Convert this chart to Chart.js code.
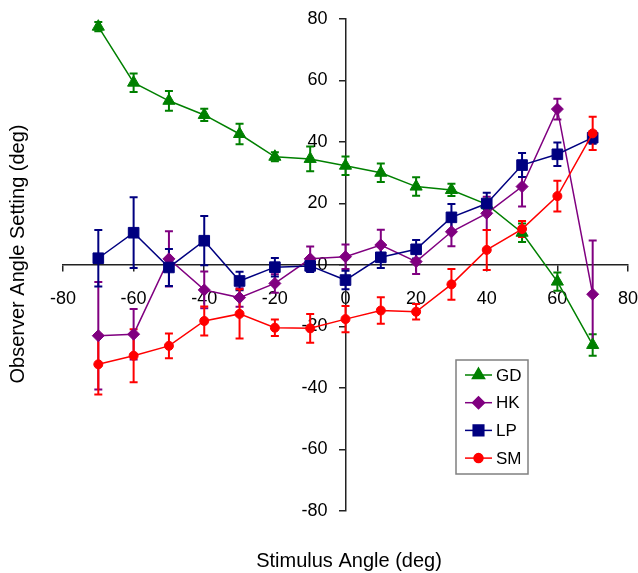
<!DOCTYPE html>
<html><head><meta charset="utf-8">
<script src="https://cdn.jsdelivr.net/npm/chart.js@4.4.1/dist/chart.umd.min.js"></script>
<style>html,body{margin:0;padding:0;background:#fff;}</style>
</head><body>
<canvas id="c" width="638" height="573"></canvas>
<script>
const stimulusAngles = [-70,-60,-50,-40,-30,-20,-10,0,10,20,30,40,50,60,70];
const seriesNames = ['GD','HK','LP','SM'];
const gdValues = [77.5, 59.3, 53.4, 48.8, 42.6, 35.2, 34.5, 32.3, 30.0, 25.5, 24.4, 19.7, 10.5, -5.4, -26];
const gdErrors = [1.5, 3, 3.2, 2, 3.3, 1.5, 4, 3, 3, 3, 2, 1.5, 3, 3, 3.5];
const hkValues = [-23, -22.5, 2, -8.1, -10.6, -6, 2, 2.7, 6.5, 1.1, 10.8, 16.8, 25.5, 50.7, -9.5];
const hkErrors = [17.5, 8.2, 9, 6, 3, 3, 4, 4, 5, 4, 4.7, 5.4, 6.5, 3.4, 17.5];
const lpValues = [2.2, 10.5, -0.8, 7.9, -5.2, -0.7, -0.3, -4.9, 2.5, 5.1, 15.5, 20, 32.5, 36, 41.4];
const lpErrors = [9.2, 11.5, 6, 8, 3, 3, 2, 3, 3.5, 3, 4.3, 3.5, 3.9, 3.8, 2];
const smValues = [-32.3, -29.5, -26.3, -18.2, -15.9, -20.4, -20.6, -17.6, -14.8, -15.2, -6.3, 4.9, 11.7, 22.4, 42.8];
const smErrors = [9.8, 8.6, 4, 4.7, 8, 2.7, 4.7, 4.3, 4.3, 2.5, 5, 6.5, 2.6, 5, 5.4];
const axisTicks = [-80,-60,-40,-20,0,20,40,60,80];
const xTitle = 'Stimulus Angle (deg)';
const yTitle = 'Observer Angle Setting (deg)';

const FONT = '"Liberation Sans", Arial, sans-serif';
const colors = ['#008000', '#800080', '#000080', '#ff0000'];
const styles = ['triangle', 'rectRot', 'rect', 'circle'];
const radii = [7, 6, 7.5, 4.5];
const allValues = [gdValues, hkValues, lpValues, smValues];
const allErrors = [gdErrors, hkErrors, lpErrors, smErrors];

const datasets = seriesNames.map((name, i) => ({
  label: name,
  data: stimulusAngles.map((a, j) => ({x: a, y: allValues[i][j]})),
  borderColor: colors[i],
  backgroundColor: colors[i],
  pointBackgroundColor: colors[i],
  pointBorderColor: colors[i],
  pointBorderWidth: 1,
  pointStyle: styles[i],
  pointRadius: radii[i],
  borderWidth: 1.5,
  tension: 0,
  order: 3 - i
}));

const errorBars = {
  id: 'errorBars',
  beforeDatasetsDraw(chart) {
    const {ctx, scales: {x, y}} = chart;
    chart.data.datasets.forEach((ds, i) => {
      ctx.save();
      ctx.strokeStyle = colors[i];
      ctx.lineWidth = 2;
      allErrors[i].forEach((e, j) => {
        const pt = ds.data[j];
        const px = x.getPixelForValue(pt.x);
        const yt = y.getPixelForValue(pt.y + e);
        const yb = y.getPixelForValue(pt.y - e);
        ctx.beginPath();
        ctx.moveTo(px, yt); ctx.lineTo(px, yb);
        ctx.moveTo(px - 4, yt); ctx.lineTo(px + 4, yt);
        ctx.moveTo(px - 4, yb); ctx.lineTo(px + 4, yb);
        ctx.stroke();
      });
      ctx.restore();
    });
  }
};

const extras = {
  id: 'extras',
  afterDraw(chart) {
    const ctx = chart.ctx;
    ctx.save();
    ctx.fillStyle = '#000';
    ctx.font = '20px ' + FONT;
    ctx.textAlign = 'center';
    ctx.textBaseline = 'middle';
    ctx.fillText(xTitle, 349, 561);
    ctx.translate(18.5, 254);
    ctx.rotate(-Math.PI / 2);
    ctx.fillText(yTitle, 0, 0);
    ctx.restore();

    // legend
    const bx = 456, by = 360, bw = 72, bh = 114;
    ctx.save();
    ctx.fillStyle = '#fff';
    ctx.fillRect(bx, by, bw, bh);
    ctx.strokeStyle = '#808080';
    ctx.lineWidth = 1.5;
    ctx.strokeRect(bx, by, bw, bh);
    chart.data.datasets.forEach((ds, i) => {
      const cy = 375 + i * 27.7;
      ctx.strokeStyle = colors[i];
      ctx.lineWidth = 1.5;
      ctx.beginPath(); ctx.moveTo(465, cy); ctx.lineTo(492, cy); ctx.stroke();
      ctx.fillStyle = colors[i];
      Chart.helpers.drawPoint(ctx, {pointStyle: styles[i], radius: radii[i], borderWidth: 1, rotation: 0}, 478.5, cy);
      ctx.fill();
      ctx.fillStyle = '#000';
      ctx.font = '17px ' + FONT;
      ctx.textAlign = 'left';
      ctx.textBaseline = 'middle';
      ctx.fillText(ds.label, 496, cy + 1);
    });
    ctx.restore();
  }
};

function axisOpts(pos, lh, cb) {
  return {
    type: 'linear', min: -80, max: 80, position: pos,
    afterBuildTicks: s => { s.ticks = axisTicks.map(v => ({value: v})); },
    grid: {display: true, drawOnChartArea: false, drawTicks: true, tickLength: 6, lineWidth: 1.5, color: '#222'},
    border: {display: true, color: '#222', width: 1.5},
    ticks: {color: '#000', font: {family: FONT, size: 18, lineHeight: lh}, padding: 0, maxRotation: 0, autoSkip: false, callback: cb}
  };
}

new Chart(document.getElementById('c'), {
  type: 'line',
  data: {datasets},
  options: {
    responsive: false,
    animation: false,
    devicePixelRatio: 1,
    layout: {padding: {left: 63, right: 10, top: 19, bottom: 62}},
    plugins: {legend: {display: false}, tooltip: {enabled: false}},
    scales: {
      x: axisOpts({y: 0}, 3.1, v => String(v)),
      y: axisOpts({x: 0}, 1.2, v => v + '\u2002\u2002')
    }
  },
  plugins: [errorBars, extras]
});
</script>
</body></html>
